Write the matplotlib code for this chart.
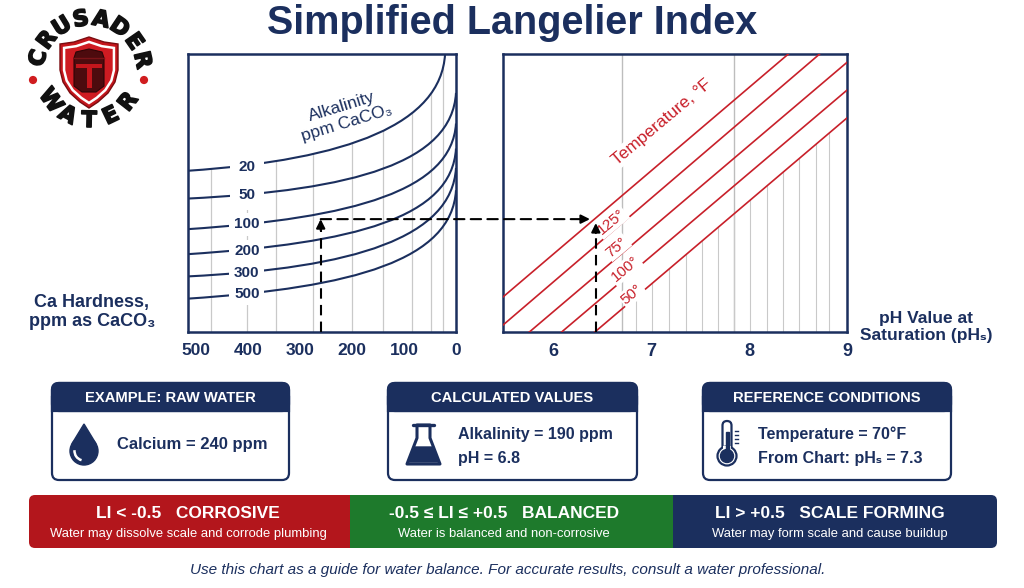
import numpy as np
import matplotlib
matplotlib.use('Agg')
import matplotlib.pyplot as plt
import matplotlib.patheffects as pe
from matplotlib.path import Path
from matplotlib.patches import (PathPatch, FancyBboxPatch, Rectangle, Circle,
                                Polygon, Arc, ConnectionPatch)

NAVY = '#1b2f5e'
RED = '#c8202a'
GRID = '#c9c9c9'
SANS = ['Liberation Sans', 'DejaVu Sans']

# ---- data ----
hardness_ticks = [500, 400, 300, 200, 100, 0]
hardness_grid = [470, 402, 345, 275, 200, 140, 85, 48, 25]

alk_levels = [20, 50, 100, 200, 300, 500]
alk_start = [58, 48, 37, 28, 20, 12]          # curve height at left edge
alk_bend1 = [(204, 62), (194, 51), (194, 41), (194, 32), (194, 23), (194, 16)]
alk_bend2 = [(29, 75), (8, 61), (8, 51), (8, 41), (8, 34), (8, 26)]
alk_end = [(21, 100), (0, 86), (0, 75), (0, 66), (0, 59), (0, 51)]
alk_label_y = [59.4, 49.3, 38.8, 29.1, 21.2, 13.7]

ph_ticks = [6, 7, 8, 9]
ph_major_grid = [6.70, 7.84]
ph_minor_grid = [6.84, 7.00, 7.18, 7.35, 7.52, 7.68, 7.84, 8.01, 8.18,
                 8.34, 8.51, 8.68, 8.82]
temp_start = [(5.48, 12.6), (5.48, 2.5), (5.75, 0), (6.08, 0), (6.42, 0)]
temp_end = [(8.40, 100), (8.72, 100), (9.0, 97), (9.0, 87), (9.0, 77)]
temp_labels = ['125°', '75°', '100°', '50°']
temp_label_pos = [(6.59, 39.5), (6.645, 30.5), (6.73, 22.6), (6.80, 13.6)]

example_hardness = 260
example_level = 40.6
example_phs = 6.43

fig = plt.figure(figsize=(10.24, 5.88), dpi=100)

# overlay in pixel units for the infographic parts
ax0 = fig.add_axes([0, 0, 1, 1])
ax0.set_xlim(0, 1024)
ax0.set_ylim(588, 0)
ax0.axis('off')

ax0.text(512, 34, 'Simplified Langelier Index', ha='center', va='baseline',
         fontsize=28.5, weight='bold', color=NAVY, family=SANS)

# ---- logo ----
cx, cy = 90, 72
heavy = [pe.withStroke(linewidth=1.2, foreground='#111111')]
for ch, a in zip('CRUSADER', np.linspace(165, 13, 8)):
    t = np.radians(a)
    ax0.text(cx + 53 * np.cos(t), cy - 53 * np.sin(t), ch, rotation=a - 90,
             rotation_mode='anchor', ha='center', va='center', fontsize=16,
             weight='bold', family='DejaVu Sans', color='#111111', path_effects=heavy)
for ch, a in zip('WATER', np.linspace(216, 322, 5)):
    t = np.radians(a)
    ax0.text(cx + 49 * np.cos(t), cy - 49 * np.sin(t), ch, rotation=a + 90,
             rotation_mode='anchor', ha='center', va='center', fontsize=16,
             weight='bold', family='DejaVu Sans', color='#111111', path_effects=heavy)
for dx in (33, 144):
    ax0.add_patch(Circle((dx, 80), 3.4, color='#d01c1f'))

shield = np.array([(60, 44), (74, 42), (89, 37), (104, 42), (118, 44), (118, 70),
                   (115, 82), (108, 93), (98, 102), (89, 108), (80, 102),
                   (70, 93), (63, 82), (60, 70)])
ax0.add_patch(Polygon(shield, closed=True, fc='#c4161c', ec='#7a0c10', lw=1))
inner = (shield - [89, 72]) * 0.86 + [89, 72]
ax0.add_patch(Polygon(inner, closed=True, fc='#cf1b22', ec='white', lw=1.8))
helmet = [(74, 58), (76, 52), (89, 49), (102, 52), (104, 58), (104, 86),
          (96, 92), (82, 92), (74, 86)]
ax0.add_patch(Polygon(helmet, closed=True, fc='#4d0b0e', ec='#2e0507', lw=0.8))
ax0.plot([74, 104], [58, 58], color='#7a1418', lw=1)
ax0.add_patch(Rectangle((76, 64), 26, 4, fc='#c4161c', lw=0))
ax0.add_patch(Rectangle((86.5, 64), 5, 24, fc='#c4161c', lw=0))

# ---- axis titles ----
ax0.text(92, 312, 'Ca Hardness,\nppm as CaCO₃', ha='center', va='center',
         fontsize=13, weight='bold', color=NAVY, family=SANS, linespacing=1.15)
ax0.text(926, 327, 'pH Value at\nSaturation (pHₛ)', ha='center', va='center',
         fontsize=12.5, weight='bold', color=NAVY, family=SANS, linespacing=1.2)

# ---- left panel: alkalinity curves ----
ax1 = fig.add_axes([188 / 1024, 256 / 588, 268 / 1024, 278 / 588])
ax1.set_xlim(515, 0)
ax1.set_ylim(0, 100)
ax1.set_yticks([])
ax1.set_xticks(hardness_ticks)
ax1.tick_params(axis='x', length=0, pad=8, labelsize=12.5, labelcolor=NAVY)
for lab in ax1.get_xticklabels():
    lab.set_fontweight('bold')
    lab.set_family(SANS)
for s in ax1.spines.values():
    s.set_color(NAVY)
    s.set_linewidth(1.8)

codes = [Path.MOVETO, Path.CURVE4, Path.CURVE4, Path.CURVE4]
top_curve = None
for i, lvl in enumerate(alk_levels):
    verts = [(515, alk_start[i]), alk_bend1[i], alk_bend2[i], alk_end[i]]
    p = Path(verts, codes)
    if top_curve is None:
        top_curve = p
    ax1.add_patch(PathPatch(p, fc='none', ec=NAVY, lw=1.5, zorder=3))
    ax1.text(402, alk_label_y[i], str(lvl), ha='center', va='center',
             fontsize=11, weight='bold', color=NAVY, family=SANS, zorder=4,
             bbox=dict(boxstyle='square,pad=%s' % (0.55 if lvl < 100 else 0.3),
                       fc='white', ec='none'))

# grid only under the top curve
under = Path(list(top_curve.vertices) + [(0, 100), (0, 0), (515, 0), (515, 0)],
             list(top_curve.codes) + [Path.LINETO, Path.LINETO, Path.LINETO,
                                      Path.CLOSEPOLY])
for g in hardness_grid:
    ln = ax1.axvline(g, color=GRID, lw=0.9, zorder=1)
    ln.set_clip_path(under, ax1.transData)

ax1.text(215, 78, 'Alkalinity\nppm CaCO₃', ha='center', va='center',
         rotation=17, rotation_mode='anchor', fontsize=12.5, color=NAVY,
         family=SANS, linespacing=1.2)

# ---- right panel: temperature lines ----
ax2 = fig.add_axes([503 / 1024, 256 / 588, 344 / 1024, 278 / 588])
ax2.set_xlim(5.48, 9.0)
ax2.set_ylim(0, 100)
ax2.set_yticks([])
ax2.set_xticks(ph_ticks)
ax2.tick_params(axis='x', length=0, pad=8, labelsize=13, labelcolor=NAVY)
for lab in ax2.get_xticklabels():
    lab.set_fontweight('bold')
    lab.set_family(SANS)
for s in ax2.spines.values():
    s.set_color(NAVY)
    s.set_linewidth(1.8)

for g in ph_major_grid:
    ax2.axvline(g, color='#bdbdbd', lw=1.0, zorder=1)
below = Polygon([temp_start[-1], temp_end[-1], (9.0, 0)], closed=True,
                transform=ax2.transData)
for g in ph_minor_grid:
    ln = ax2.axvline(g, color=GRID, lw=0.8, zorder=1)
    ln.set_clip_path(below)

for (x0, y0), (x1, y1) in zip(temp_start, temp_end):
    ax2.plot([x0, x1], [y0, y1], color=RED, lw=1.2, zorder=3)
for lab, (x, y) in zip(temp_labels, temp_label_pos):
    ax2.text(x, y, lab, rotation=40, rotation_mode='anchor', ha='center',
             va='center', fontsize=11, color=RED, family=SANS, zorder=4,
             bbox=dict(boxstyle='square,pad=0.1', fc='white', ec='none'))
ax2.text(7.105, 75.5, 'Temperature, °F', rotation=40, rotation_mode='anchor',
         ha='center', va='center', fontsize=12.5, color=RED, family=SANS,
         zorder=4, bbox=dict(boxstyle='square,pad=0.1', fc='white', ec='none'))

# ---- example path (dashed arrows) ----
dash = dict(color='black', lw=1.5, ls=(0, (5, 3)))
head = dict(arrowstyle='-|>', color='black', lw=1.5, mutation_scale=13,
            shrinkA=0, shrinkB=0)
ax1.plot([example_hardness, example_hardness], [0, example_level - 2], zorder=5, **dash)
ax1.annotate('', xy=(example_hardness, example_level),
             xytext=(example_hardness, example_level - 4),
             arrowprops=head, zorder=6)
con = ConnectionPatch((example_hardness, example_level),
                      (example_phs - 0.1, example_level),
                      coordsA='data', coordsB='data', axesA=ax1, axesB=ax2,
                      zorder=6, **dash)
fig.add_artist(con)
ax2.annotate('', xy=(example_phs - 0.06, example_level),
             xytext=(example_phs - 0.14, example_level),
             arrowprops=head, zorder=6)
ax2.plot([example_phs, example_phs], [0, example_level - 3.5], zorder=5, **dash)
ax2.annotate('', xy=(example_phs, example_level - 1.4),
             xytext=(example_phs, example_level - 5),
             arrowprops=head, zorder=6)

# ---- info cards ----
def card(x0, x1, title):
    y0, yh, y1 = 383, 411, 480
    ax0.add_patch(FancyBboxPatch((x0, y0), x1 - x0, y1 - y0,
                                 boxstyle='round,pad=0,rounding_size=7',
                                 fc='white', ec=NAVY, lw=1.6))
    ax0.add_patch(FancyBboxPatch((x0, y0), x1 - x0, yh - y0,
                                 boxstyle='round,pad=0,rounding_size=7',
                                 fc=NAVY, ec=NAVY, lw=1.6))
    ax0.add_patch(Rectangle((x0, y0 + 14), x1 - x0, yh - y0 - 14,
                            fc=NAVY, ec=NAVY, lw=1.6))
    ax0.text((x0 + x1) / 2, (y0 + yh) / 2 + 1, title, ha='center', va='center',
             fontsize=10.6, weight='bold', color='white', family=SANS)

card(52, 289, 'EXAMPLE: RAW WATER')
card(388, 637, 'CALCULATED VALUES')
card(703, 951, 'REFERENCE CONDITIONS')

# drop
ax0.add_patch(Polygon([(84, 424), (96, 443.7), (72, 443.7)], closed=True,
                      fc=NAVY, ec=NAVY, lw=1))
ax0.add_patch(Circle((84, 451), 14, fc=NAVY, ec=NAVY))
ax0.add_patch(Arc((84, 451), 19, 19, theta1=105, theta2=185, color='white', lw=1.8))
ax0.text(117, 445, 'Calcium = 240 ppm', ha='left', va='center', fontsize=12,
         weight='bold', color=NAVY, family=SANS)

# flask
ax0.add_patch(Polygon([(417, 425), (430, 425), (430, 438), (440, 464), (407, 464),
                       (417, 438)], closed=True, fc='white', ec=NAVY, lw=2.2,
                      joinstyle='round'))
ax0.plot([413, 434], [425, 425], color=NAVY, lw=2.4, solid_capstyle='round')
ax0.add_patch(Polygon([(413.5, 447), (433.5, 447), (438.5, 462), (408.5, 462)],
                      closed=True, fc=NAVY, ec=NAVY, lw=1))
ax0.text(458, 435, 'Alkalinity = 190 ppm', ha='left', va='center', fontsize=11.5,
         weight='bold', color=NAVY, family=SANS)
ax0.text(458, 458, 'pH = 6.8', ha='left', va='center', fontsize=11.5,
         weight='bold', color=NAVY, family=SANS)

# thermometer
ax0.add_patch(FancyBboxPatch((722.5, 421), 9, 30, boxstyle='round,pad=0,rounding_size=4.5',
                             fc='white', ec=NAVY, lw=1.6))
ax0.add_patch(Circle((727, 456), 9.5, fc='white', ec=NAVY, lw=1.6))
ax0.add_patch(Rectangle((722.6, 446), 8.8, 6, fc='white', ec='none'))
ax0.add_patch(Circle((727, 456), 6.5, fc=NAVY, ec=NAVY))
ax0.add_patch(Rectangle((725.5, 432), 3, 20, fc=NAVY, ec=NAVY))
for ty in (431, 435, 439, 443):
    ax0.plot([735, 738], [ty, ty], color=NAVY, lw=1)
ax0.text(758, 434, 'Temperature = 70°F', ha='left', va='center', fontsize=11.5,
         weight='bold', color=NAVY, family=SANS)
ax0.text(758, 458, 'From Chart: pHₛ = 7.3', ha='left', va='center', fontsize=11.5,
         weight='bold', color=NAVY, family=SANS)

# ---- LI banner ----
ax0.add_patch(FancyBboxPatch((29, 495), 330, 53, boxstyle='round,pad=0,rounding_size=6',
                             fc='#b3161c', ec='none'))
ax0.add_patch(FancyBboxPatch((663, 495), 334, 53, boxstyle='round,pad=0,rounding_size=6',
                             fc=NAVY, ec='none'))
ax0.add_patch(Rectangle((350, 495), 323, 53, fc='#1e7a2c', ec='none'))

banner = [(188, 'LI < -0.5   CORROSIVE', 'Water may dissolve scale and corrode plumbing'),
          (504, '-0.5 ≤ LI ≤ +0.5   BALANCED', 'Water is balanced and non-corrosive'),
          (830, 'LI > +0.5   SCALE FORMING', 'Water may form scale and cause buildup')]
for bx, head_txt, sub in banner:
    ax0.text(bx, 513, head_txt, ha='center', va='center', fontsize=12.5,
             weight='bold', color='white', family=SANS)
    ax0.text(bx, 534, sub, ha='center', va='center', fontsize=9.4,
             color='white', family=SANS)

ax0.text(508, 570, 'Use this chart as a guide for water balance. For accurate '
         'results, consult a water professional.', ha='center', va='center',
         fontsize=11, style='italic', color=NAVY, family=SANS)

fig.savefig('out.png', dpi=100)
